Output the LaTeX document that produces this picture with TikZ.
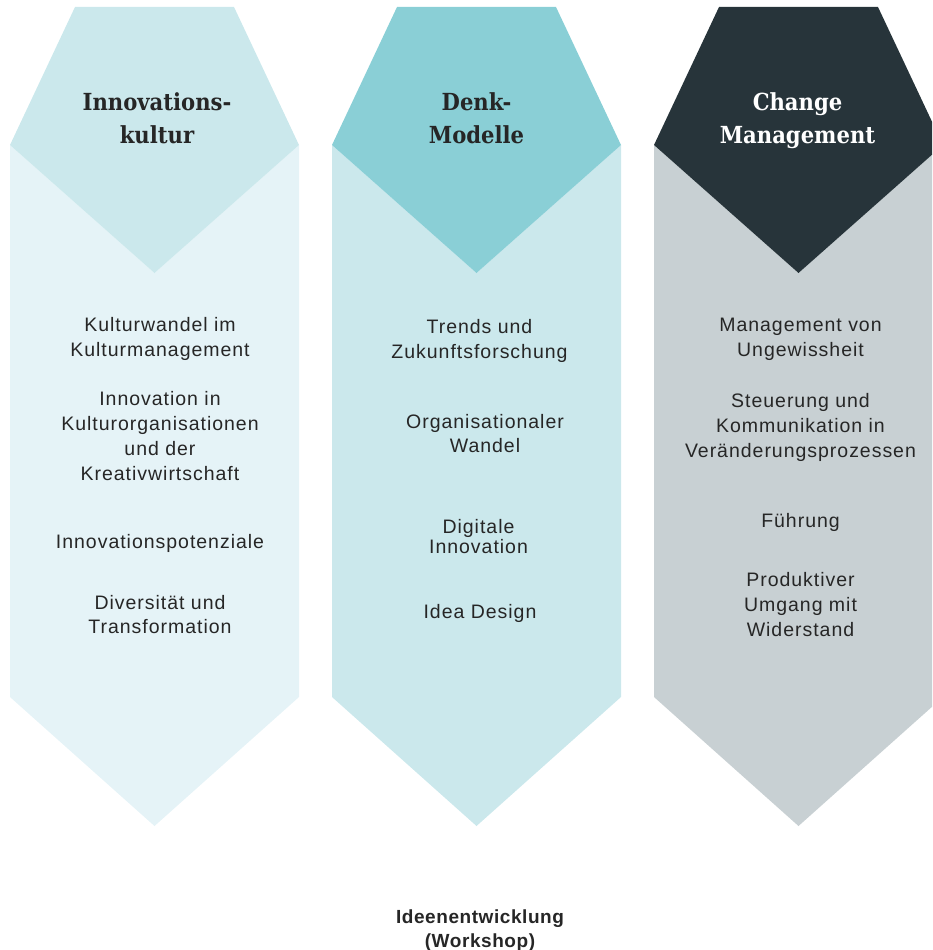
\documentclass[tikz,border=0pt]{standalone}
\usepackage{fontspec}
\setmainfont{Liberation Sans}
\newfontfamily\bodyfont[LetterSpace=5]{Liberation Sans}
\newfontfamily\footfont[LetterSpace=3]{Liberation Sans}
\newfontfamily\headfont{DejaVu Serif Condensed}
\definecolor{aTop}{HTML}{CBE8EC}
\definecolor{aBody}{HTML}{E5F3F7}
\definecolor{bTop}{HTML}{8ACFD6}
\definecolor{bBody}{HTML}{CBE8EC}
\definecolor{cTop}{HTML}{27343A}
\definecolor{cBody}{HTML}{C8D0D3}
\definecolor{txt}{HTML}{262626}
\newcommand{\itm}[2]{{\fontsize{19.5}{#1}\selectfont\begin{tabular}[t]{@{}c@{}}#2\end{tabular}}}
\newcommand{\ftm}[2]{{\fontsize{19}{#1}\selectfont\begin{tabular}[t]{@{}c@{}}#2\end{tabular}}}
\newcommand{\hd}[1]{{\fontsize{23.5}{33}\selectfont\bfseries\begin{tabular}[t]{@{}c@{}}#1\end{tabular}}}
\tikzset{
  item/.style={anchor=base, inner sep=0pt, text=txt, font=\bodyfont},
  head/.style={anchor=base, inner sep=0pt, text=txt, font=\headfont},
  foot/.style={anchor=base, inner sep=0pt, text=txt, font=\footfont\bfseries},
}
\newcommand{\column}[3]{%
  \fill[#3] (#1-144.5,145) -- (#1,273) -- (#1+144.5,145) -- (#1+144.5,697) -- (#1,826) -- (#1-144.5,697) -- cycle;
  \fill[#2] (#1-79.5,7) -- (#1+79.5,7) -- (#1+144.5,145) -- (#1,273) -- (#1-144.5,145) -- cycle;
}
\begin{document}
\begin{tikzpicture}[x=1pt,y=-1pt]
\useasboundingbox (0,0) rectangle (932,950);
\begin{scope}
\clip (0,0) rectangle (932,950);
\column{154.5}{aTop}{aBody}
\column{476.5}{bTop}{bBody}
\column{798.5}{cTop}{cBody}
\end{scope}
% headings
\node[head] (h1) at (157,110) {\hd{Innovations-\\kultur}};
\node[head] (h2) at (476.5,110) {\hd{Denk-\\Modelle}};
\node[head, text=white] (h3) at (797.5,110) {\hd{Change\\Management}};
% column 1
\node[item] (a1) at (160,331) {\itm{25}{Kulturwandel im\\Kulturmanagement}};
\node[item] (a2) at (160,405) {\itm{25}{Innovation in\\Kulturorganisationen\\und der\\Kreativwirtschaft}};
\node[item] (a3) at (160,548) {\itm{25}{Innovationspotenziale}};
\node[item] (a4) at (160,609) {\itm{24}{Diversität und\\Transformation}};
% column 2
\node[item] (b1) at (479.5,333) {\itm{25}{Trends und\\Zukunftsforschung}};
\node[item] (b2) at (485,428) {\itm{24}{Organisationaler\\Wandel}};
\node[item] (b3) at (478.5,533) {\itm{20}{Digitale\\Innovation}};
\node[item] (b4) at (480,618) {\itm{25}{Idea Design}};
% column 3
\node[item] (c1) at (800.5,331) {\itm{25}{Management von\\Ungewissheit}};
\node[item] (c2) at (800.5,407) {\itm{25}{Steuerung und\\Kommunikation in\\Veränderungsprozessen}};
\node[item] (c3) at (800.5,527) {\itm{25}{Führung}};
\node[item] (c4) at (800.5,586) {\itm{25}{Produktiver\\Umgang mit\\Widerstand}};
% footer
\node[foot] (f) at (480,923) {\ftm{24}{Ideenentwicklung\\(Workshop)}};
\end{tikzpicture}
\end{document}
